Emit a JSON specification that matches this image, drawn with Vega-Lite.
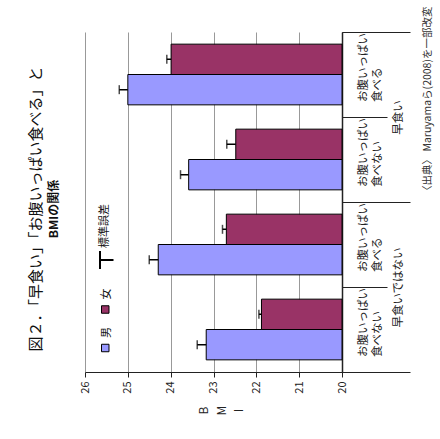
{
  "$schema": "https://vega.github.io/schema/vega-lite/v6.json",
  "width": 257,
  "height": 340,
  "autosize": {"type": "none"},
  "padding": {"left": 85, "top": 32, "right": 98, "bottom": 67},
  "background": "white",
  "config": {
    "view": {"stroke": null},
    "font": "Noto Sans CJK JP"
  },
  "title": {
    "text": "図２．「早食い」「お腹いっぱい食べる」と",
    "subtitle": "BMIの関係",
    "orient": "left",
    "anchor": "middle",
    "font": "Noto Sans CJK JP",
    "fontSize": 15,
    "fontWeight": "normal",
    "color": "#111",
    "subtitleFont": "Noto Sans CJK JP",
    "subtitleFontSize": 12,
    "subtitleFontWeight": "bold",
    "subtitleColor": "#111",
    "offset": 19,
    "subtitlePadding": 5,
    "dx": -7
  },
  "data": {
    "values": [
      {"speed": "早食いではない", "cat": "早食いではない|お腹いっぱい 食べない", "sex": "男", "bmi": 23.17, "upper": 23.38},
      {"speed": "早食いではない", "cat": "早食いではない|お腹いっぱい 食べない", "sex": "女", "bmi": 21.88, "upper": 21.94},
      {"speed": "早食いではない", "cat": "早食いではない|お腹いっぱい 食べる", "sex": "男", "bmi": 24.29, "upper": 24.5},
      {"speed": "早食いではない", "cat": "早食いではない|お腹いっぱい 食べる", "sex": "女", "bmi": 22.7, "upper": 22.79},
      {"speed": "早食い", "cat": "早食い|お腹いっぱい 食べない", "sex": "男", "bmi": 23.58, "upper": 23.77},
      {"speed": "早食い", "cat": "早食い|お腹いっぱい 食べない", "sex": "女", "bmi": 22.48, "upper": 22.69},
      {"speed": "早食い", "cat": "早食い|お腹いっぱい 食べる", "sex": "男", "bmi": 25.0, "upper": 25.2},
      {"speed": "早食い", "cat": "早食い|お腹いっぱい 食べる", "sex": "女", "bmi": 23.99, "upper": 24.09}
    ]
  },
  "layer": [
    {
      "layer": [
        {
          "mark": {"type": "bar", "stroke": "black", "strokeWidth": 1},
          "encoding": {
            "y": {
              "field": "cat", "type": "nominal",
              "scale": {
                "domain": ["早食い|お腹いっぱい 食べる", "早食い|お腹いっぱい 食べない", "早食いではない|お腹いっぱい 食べる", "早食いではない|お腹いっぱい 食べない"],
                "paddingInner": 0, "paddingOuter": 0
              },
              "axis": {
                "orient": "right",
                "tickBand": "extent",
                "tickSize": 45,
                "tickColor": "#222",
                "tickWidth": 1,
                "domainColor": "#222",
                "domainWidth": 1.5,
                "labelExpr": "indexof(datum.value + '', '|') >= 0 ? split(split(datum.value, '|')[1], ' ') : ''",
                "labelAngle": 270,
                "labelAlign": "left",
                "labelBaseline": "top",
                "labelOffset": 27,
                "labelPadding": -30,
                "labelFontSize": 11.5,
                "labelLineHeight": 14,
                "labelColor": "#222",
                "labelOverlap": false,
                "title": "〈出典〉 Maruyamaら(2008)を一部改変",
                "titleAngle": 270,
                "titleAlign": "right",
                "titleBaseline": "middle",
                "titleX": 85,
                "titleY": -26,
                "titleFontSize": 10.5,
                "titleFontWeight": "normal",
                "titleColor": "#333"
              }
            },
            "yOffset": {
              "field": "sex", "type": "nominal",
              "scale": {"domain": ["女", "男"], "paddingInner": 0, "paddingOuter": 0.4}
            },
            "x": {
              "field": "bmi", "type": "quantitative",
              "scale": {"domain": [20, 26], "reverse": true, "nice": false, "zero": false},
              "axis": {
                "orient": "bottom",
                "values": [20, 21, 22, 23, 24, 25, 26],
                "grid": true,
                "gridColor": "#999",
                "gridWidth": 1,
                "domainColor": "#222",
                "tickColor": "#222",
                "tickSize": 5,
                "labelAngle": 270,
                "labelAlign": "right",
                "labelBaseline": "middle",
                "labelPadding": 4,
                "labelFontSize": 11,
                "labelColor": "#222",
                "title": ["B", "M", "I"],
                "titleAngle": 270,
                "titleAlign": "center",
                "titleBaseline": "middle",
                "titleLineHeight": 17.5,
                "titleFontSize": 12,
                "titleFontWeight": "normal",
                "titleColor": "#222",
                "titleX": 118.5,
                "titleY": 38
              }
            },
            "x2": {"datum": 20},
            "color": {
              "field": "sex", "type": "nominal",
              "scale": {"domain": ["男", "女"], "range": ["#9999FF", "#993366"]},
              "legend": {
                "orient": "none",
                "legendX": 14.75,
                "legendY": 272,
                "title": null,
                "direction": "vertical",
                "values": ["女", "男"],
                "padding": 0,
                "rowPadding": 10.5,
                "labelFontSize": 11,
                "labelColor": "#111",
                "labelOffset": -4.25,
                "symbolType": "square",
                "symbolSize": 56,
                "symbolStrokeColor": "black",
                "symbolStrokeWidth": 1,
                "encoding": {
                  "symbols": {
                    "stroke": {"value": "black"},
                    "strokeWidth": {"value": 1}
                  },
                  "labels": {
                    "angle": {"value": 270},
                    "align": {"value": "left"},
                    "baseline": {"value": "middle"},
                    "dx": {"value": 10}
                  }
                }
              }
            }
          }
        },
        {
          "mark": {"type": "rule", "strokeWidth": 1.5, "color": "black"},
          "encoding": {
            "y": {"field": "cat", "type": "nominal"},
            "yOffset": {"field": "sex", "type": "nominal"},
            "x": {"field": "bmi", "type": "quantitative"},
            "x2": {"field": "upper"},
            "strokeDash": {
              "datum": "標準誤差",
              "scale": {"domain": ["標準誤差"], "range": [[1, 0]]},
              "legend": {
                "orient": "none",
                "legendX": 9.5,
                "legendY": 218,
                "title": null,
                "padding": 0,
                "labelFontSize": 11,
                "labelColor": "#111",
                "labelOffset": -10,
                "symbolStrokeColor": "black",
                "symbolStrokeWidth": 2,
                "symbolSize": 324,
                "encoding": {
                  "symbols": {
                    "shape": {"value": "M-0.5,-1L-0.5,1M-0.5,0L1,0"},
                    "angle": {"value": 0},
                    "size": {"value": 324},
                    "stroke": {"value": "black"},
                    "strokeWidth": {"value": 2},
                    "strokeDash": {"value": [1, 0]}
                  },
                  "labels": {
                    "angle": {"value": 270},
                    "align": {"value": "left"},
                    "baseline": {"value": "middle"},
                    "dx": {"value": 12}
                  }
                }
              }
            }
          }
        },
        {
          "mark": {"type": "tick", "color": "black", "thickness": 1.5, "size": 9},
          "encoding": {
            "y": {"field": "cat", "type": "nominal"},
            "yOffset": {"field": "sex", "type": "nominal"},
            "x": {"field": "upper", "type": "quantitative"}
          }
        }
      ]
    },
    {
      "mark": {"type": "point", "opacity": 0},
      "encoding": {
        "y": {
          "field": "speed", "type": "nominal",
          "scale": {"domain": ["早食い", "早食いではない"], "paddingInner": 0, "paddingOuter": 0},
          "axis": {
            "orient": "right",
            "tickBand": "extent",
            "tickSize": 68,
            "tickColor": "#222",
            "domain": false,
            "labelAngle": 270,
            "labelAlign": "center",
            "labelBaseline": "top",
            "labelPadding": -18,
            "labelFontSize": 11.5,
            "labelColor": "#222",
            "title": null
          }
        }
      }
    }
  ],
  "resolve": {"scale": {"y": "independent"}}
}
